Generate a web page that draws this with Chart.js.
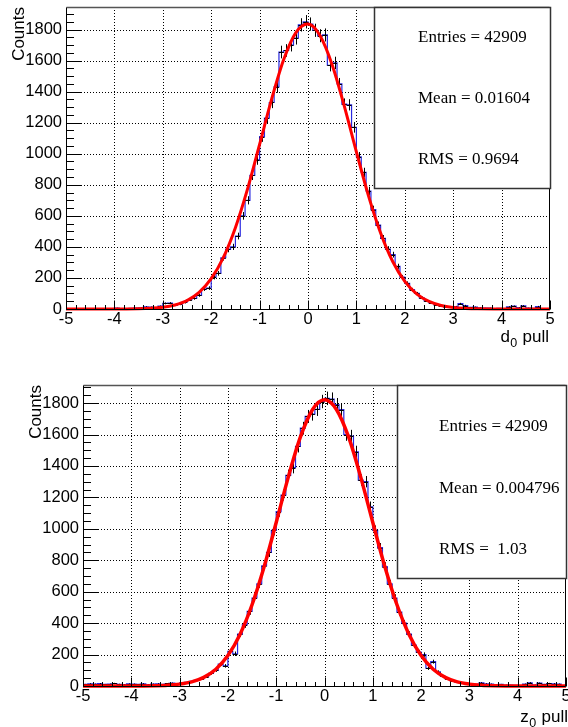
<!DOCTYPE html>
<html>
<head>
<meta charset="utf-8">
<script src="https://cdn.jsdelivr.net/npm/chart.js@4.4.1/dist/chart.umd.min.js"></script>
<style>
  html, body { margin: 0; padding: 0; background: #fff; }
  body { width: 568px; height: 727px; position: relative; overflow: hidden; }
  canvas { position: absolute; left: 0; }
  #d0 { top: 0; }
  #z0 { top: 360px; }
</style>
</head>
<body>
<canvas id="d0" width="568" height="360"></canvas>
<canvas id="z0" width="568" height="367"></canvas>
<script>
// histogram binning: 100 bins from -5 to 5
const binLow = -5, binHigh = 5, binWidth = 0.1;

// bin contents, left to right
const d0Counts = [
  0, 1, 0, 1, 0, 2, 1, 0, 3, 2,
  6, 3, 2, 4, 5, 8, 14, 12, 9, 18,
  36, 38, 24, 30, 42, 60, 68, 88, 128, 135,
  205, 230, 330, 385, 400, 470, 600, 700, 860, 960,
  1110, 1230, 1330, 1430, 1655, 1665, 1700, 1745, 1830, 1850,
  1835, 1795, 1760, 1765, 1570, 1585, 1450, 1320, 1315, 1170,
  980, 880, 760, 640, 540, 455, 385, 350, 275, 205,
  165, 125, 100, 72, 52, 38, 28, 22, 15, 14,
  16, 34, 22, 10, 12, 8, 5, 6, 3, 4,
  2, 14, 18, 9, 20, 6, 4, 16, 3, 2
];
const z0Counts = [
  10, 14, 12, 15, 10, 12, 16, 11, 9, 13,
  12, 10, 14, 9, 12, 14, 10, 16, 18, 15,
  20, 24, 30, 36, 45, 60, 80, 100, 140, 128,
  220, 205, 330, 390, 475, 560, 650, 765, 850, 990,
  1110, 1215, 1340, 1390, 1525, 1640, 1715, 1730, 1760, 1810,
  1830, 1825, 1790, 1758, 1600, 1590, 1490, 1310, 1300, 1140,
  990, 880, 760, 650, 560, 470, 400, 330, 260, 215,
  200, 113, 155, 90, 62, 45, 34, 25, 18, 14,
  12, 10, 20, 14, 12, 8, 10, 6, 5, 4,
  3, 12, 20, 6, 18, 10, 16, 14, 12, 3
];

// red fit curves, read at these x positions
const fitX = [-5, -4.5, -4, -3.5, -3.25, -3, -2.75, -2.5, -2.25, -2, -1.75, -1.5, -1.25, -1, -0.75, -0.5, -0.25,
  0, 0.25, 0.5, 0.75, 1, 1.25, 1.5, 1.75, 2, 2.25, 2.5, 2.75, 3, 3.25, 3.5, 4, 4.5, 5];
const d0Fit = [0, 0, 0, 2, 5, 11, 26, 54, 107, 195, 331, 524, 772, 1060, 1353, 1608, 1780,
  1835, 1760, 1572, 1307, 1012, 729, 490, 306, 178, 96, 49, 23, 10, 4, 1, 0, 0, 0];
const z0Fit = [0, 0, 0, 2, 5, 12, 26, 55, 107, 194, 328, 517, 759, 1040, 1329, 1583, 1758,
  1821, 1758, 1583, 1329, 1040, 759, 517, 328, 194, 107, 55, 26, 12, 5, 2, 0, 0, 0];

// tick labels
const xTicks = [-5, -4, -3, -2, -1, 0, 1, 2, 3, 4, 5];
const yTicks = [0, 200, 400, 600, 800, 1000, 1200, 1400, 1600, 1800];

const d0Stats = ['Entries = 42909', 'Mean = 0.01604', 'RMS = 0.9694'];
const z0Stats = ['Entries = 42909', 'Mean = 0.004796', 'RMS =  1.03'];

const sans = '"Liberation Sans", Arial, sans-serif';
const serif = '"Liberation Serif", "Times New Roman", serif';

function stepPoints(vals) {
  const pts = vals.map((v, i) => ({x: binLow + i * binWidth, y: v}));
  pts.push({x: binHigh, y: vals[vals.length - 1]});
  return pts;
}

function makeRootPlugin(cfg) {
  return {
    id: 'rootStyle',
    beforeDatasetsDraw(chart) {
      const {ctx, chartArea: a, scales: {x, y}} = chart;
      ctx.save();
      ctx.strokeStyle = '#000';
      ctx.lineWidth = 1;
      ctx.setLineDash([1, 2]);
      ctx.beginPath();
      xTicks.forEach(v => {
        if (v <= binLow || v >= binHigh) return;
        const px = Math.round(x.getPixelForValue(v)) + 0.5;
        ctx.moveTo(px, a.top); ctx.lineTo(px, a.bottom);
      });
      yTicks.forEach(v => {
        if (v <= 0) return;
        const py = Math.round(y.getPixelForValue(v)) + 0.5;
        ctx.moveTo(a.left, py); ctx.lineTo(a.right, py);
      });
      ctx.stroke();
      ctx.restore();
    },
    afterDatasetDraw(chart, args) {
      if (args.index !== 0) return;
      // error crosses on top of the blue histogram
      const {ctx, chartArea: a, scales: {x, y}} = chart;
      ctx.save();
      ctx.beginPath();
      ctx.rect(a.left, a.top, a.right - a.left, a.bottom - a.top);
      ctx.clip();
      ctx.strokeStyle = '#000';
      ctx.lineWidth = 1;
      ctx.beginPath();
      cfg.counts.forEach((n, i) => {
        if (n <= 0) return;
        const lo = binLow + i * binWidth;
        const x0 = x.getPixelForValue(lo), x1 = x.getPixelForValue(lo + binWidth);
        const xc = Math.round((x0 + x1) / 2) + 0.5;
        const yv = Math.round(y.getPixelForValue(n)) + 0.5;
        const e = Math.sqrt(n);
        ctx.moveTo(x0, yv); ctx.lineTo(x1, yv);
        ctx.moveTo(xc, y.getPixelForValue(n + e));
        ctx.lineTo(xc, y.getPixelForValue(Math.max(n - e, 0)));
      });
      ctx.stroke();
      ctx.restore();
    },
    afterDatasetsDraw(chart) {
      const {ctx, chartArea: a, scales: {x, y}} = chart;
      const L = Math.round(a.left) + 0.5, R = Math.round(a.right) - 0.5;
      const T = Math.round(a.top) + 0.5, B = Math.round(a.bottom) + 0.5;
      ctx.save();
      // frame
      ctx.strokeStyle = '#555';
      ctx.lineWidth = 1.5;
      ctx.beginPath(); ctx.moveTo(L, T); ctx.lineTo(R, T); ctx.stroke();
      ctx.strokeStyle = '#000';
      ctx.lineWidth = 1;
      ctx.beginPath();
      ctx.moveTo(R, T); ctx.lineTo(R, B);
      ctx.moveTo(L, T); ctx.lineTo(L, B); ctx.lineTo(R, B);
      // inner ticks
      for (let i = 0; i <= 50; i++) {
        const px = Math.round(x.getPixelForValue(binLow + i * 0.2)) + 0.5;
        const len = i % 5 === 0 ? 9 : 4.5;
        ctx.moveTo(px, B); ctx.lineTo(px, B - len);
      }
      for (let v = 0; v <= y.max; v += 50) {
        const py = Math.round(y.getPixelForValue(v)) + 0.5;
        const len = v % 200 === 0 ? 15 : 7.5;
        ctx.moveTo(L, py); ctx.lineTo(L + len, py);
      }
      ctx.stroke();

      // stats box
      const b = cfg.box;
      ctx.fillStyle = '#fff';
      ctx.fillRect(b.left, b.top, b.right - b.left, b.bottom - b.top);
      ctx.strokeStyle = '#333';
      ctx.lineWidth = 1.5;
      ctx.strokeRect(b.left + 0.5, b.top + 0.5, b.right - b.left - 1, b.bottom - b.top - 1);
      ctx.fillStyle = '#000';
      ctx.font = '17px ' + serif;
      ctx.textAlign = 'left';
      ctx.textBaseline = 'middle';
      cfg.stats.forEach((s, i) => ctx.fillText(s, b.textX, b.rowY[i]));

      // y title
      ctx.font = '17px ' + sans;
      ctx.textBaseline = 'alphabetic';
      ctx.save();
      ctx.translate(cfg.yTitle.x, cfg.yTitle.y);
      ctx.rotate(-Math.PI / 2);
      ctx.textAlign = 'right';
      ctx.fillText('Counts', 0, 0);
      ctx.restore();

      // x title with subscript
      const t = cfg.xTitle;
      const big = '17px ' + sans, small = '12.5px ' + sans;
      ctx.textAlign = 'left';
      ctx.font = big;
      const wMain = ctx.measureText(t.main).width;
      const wRest = ctx.measureText(t.rest).width;
      ctx.font = small;
      const wSub = ctx.measureText(t.sub).width;
      let xs = t.right - (wMain + wSub + wRest);
      ctx.font = big;
      ctx.fillText(t.main, xs, t.y);
      xs += wMain;
      ctx.font = small;
      ctx.fillText(t.sub, xs + 0.5, t.y + 5);
      xs += wSub + 1;
      ctx.font = big;
      ctx.fillText(t.rest, xs, t.y);
      ctx.restore();
    }
  };
}

function buildChart(id, cfg) {
  const tickFont = {family: sans, size: 16.5};
  return new Chart(document.getElementById(id), {
    type: 'line',
    data: {
      datasets: [{
        label: 'hist',
        data: stepPoints(cfg.counts),
        stepped: true,
        borderColor: '#2828e0',
        borderWidth: 1.2,
        pointRadius: 0,
        fill: false,
        order: 2
      }, {
        label: 'fit',
        data: fitX.map((v, i) => ({x: v, y: cfg.fit[i]})),
        borderColor: '#ff0000',
        borderWidth: cfg.fitWidth,
        pointRadius: 0,
        fill: false,
        cubicInterpolationMode: 'monotone',
        clip: 4,
        order: 1
      }]
    },
    options: {
      responsive: false,
      animation: false,
      events: [],
      layout: {padding: {top: cfg.padTop, right: cfg.padRight, left: 0, bottom: 0}},
      plugins: {legend: {display: false}, tooltip: {enabled: false}},
      scales: {
        x: {
          type: 'linear', min: binLow, max: binHigh,
          grid: {display: false, drawTicks: false},
          border: {display: false},
          ticks: {padding: 1, color: '#000', font: tickFont, maxRotation: 0, autoSkip: false,
            callback: v => String(v)},
          afterBuildTicks: s => { s.ticks = xTicks.map(v => ({value: v})); },
          afterFit: s => { s.height = cfg.xHeight; s.paddingLeft = 0; s.paddingRight = 0; }
        },
        y: {
          type: 'linear', min: 0, max: cfg.yMax,
          grid: {display: false, drawTicks: false},
          border: {display: false},
          ticks: {padding: 4, color: '#000', font: tickFont, autoSkip: false,
            callback: v => String(v)},
          afterBuildTicks: s => { s.ticks = yTicks.map(v => ({value: v})); },
          afterFit: s => { s.width = cfg.yWidth; s.paddingTop = 0; s.paddingBottom = 0; }
        }
      }
    },
    plugins: [makeRootPlugin(cfg)]
  });
}

buildChart('d0', {
  counts: d0Counts, fit: d0Fit, stats: d0Stats, fitWidth: 3,
  yMax: 1945, yWidth: 66, xHeight: 51, padTop: 7, padRight: 18,
  box: {left: 374, top: 7, right: 551, bottom: 189, textX: 418, rowY: [38, 99, 160]},
  yTitle: {x: 23.5, y: 7},
  xTitle: {main: 'd', sub: '0', rest: ' pull', right: 548, y: 342}
});

buildChart('z0', {
  counts: z0Counts, fit: z0Fit, stats: z0Stats, fitWidth: 3.5,
  yMax: 1915, yWidth: 83, xHeight: 41, padTop: 25, padRight: 2,
  box: {left: 397, top: 25, right: 567, bottom: 219, textX: 439, rowY: [67, 129, 190]},
  yTitle: {x: 41, y: 25},
  xTitle: {main: 'z', sub: '0', rest: ' pull', right: 567, y: 362}
});
</script>
</body>
</html>
